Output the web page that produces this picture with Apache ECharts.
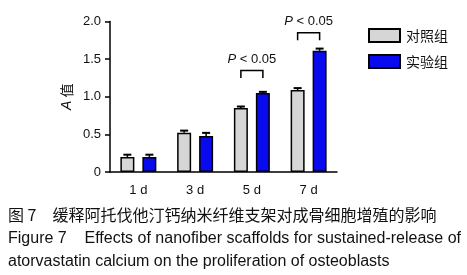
<!DOCTYPE html>
<html>
<head>
    <meta charset="utf-8"/>
    <script src="https://cdn.jsdelivr.net/npm/echarts@6/dist/echarts.min.js"></script>
</head>
<body style="margin:0;background:#fff">
<div id="main" style="width: 467px;height:275px;"></div>
<script type="text/javascript">
    // 数据
    var days = ['1 d', '3 d', '5 d', '7 d'];
    var controlVals = [0.20, 0.52, 0.85, 1.09];
    var controlErr = [0.03, 0.03, 0.02, 0.025];
    var expVals = [0.20, 0.48, 1.05, 1.61];
    var expErr = [0.03, 0.04, 0.015, 0.03];
    var yTicks = [0, 0.5, 1.0, 1.5, 2.0];
    // 显著性标注
    var sigDays = ['5 d', '7 d'];
    var sigLevels = [1.25, 1.75];
    var sigText = 'P < 0.05';

    var myChart = echarts.init(document.getElementById('main'));

    var barW = 14;
    var half = 11; // 柱中心到类目中心的距离

    function errItem(offset) {
        return function (params, api) {
            var x = api.coord([api.value(0), api.value(1)]);
            var t = api.coord([api.value(0), api.value(1) + api.value(2)]);
            var cx = x[0] + offset;
            return {
                type: 'group',
                children: [{
                    type: 'line',
                    shape: {x1: cx, y1: x[1], x2: cx, y2: t[1]},
                    style: {stroke: '#000', lineWidth: 1.5}
                }, {
                    type: 'line',
                    shape: {x1: cx - 4, y1: t[1], x2: cx + 4, y2: t[1]},
                    style: {stroke: '#000', lineWidth: 2}
                }]
            };
        };
    }

    function toData(vals, errs) {
        return vals.map(function (v, i) { return [i, v, errs[i]]; });
    }

    option = {
        animation: false,
        textStyle: {fontFamily: 'Liberation Sans, Arial, sans-serif'},
        legend: {
            data: ['对照组', '实验组'],
            orient: 'vertical',
            left: 368,
            top: 28,
            padding: 0,
            icon: 'rect',
            itemWidth: 31,
            itemHeight: 13,
            itemGap: 11,
            textStyle: {fontSize: 14, color: '#111', fontFamily: 'Noto Sans CJK SC', padding: [0, 0, 0, 1]}
        },
        grid: {left: 110, right: 130, top: 21.5, bottom: 103},
        xAxis: {
            type: 'category',
            data: days,
            axisLine: {lineStyle: {color: '#000', width: 1.5}},
            axisTick: {alignWithLabel: true, length: 5, lineStyle: {color: '#000', width: 1.5}},
            axisLabel: {color: '#111', fontSize: 13, margin: 12}
        },
        yAxis: {
            type: 'value',
            min: yTicks[0],
            max: yTicks[yTicks.length - 1],
            interval: 0.5,
            name: '{i|A} 值',
            nameLocation: 'middle',
            nameRotate: 90,
            nameGap: 36,
            nameTextStyle: {
                fontSize: 14, color: '#111', fontFamily: 'Noto Sans CJK SC',
                rich: {i: {fontStyle: 'italic', fontSize: 14, fontFamily: 'Liberation Sans'}}
            },
            axisLine: {show: true, lineStyle: {color: '#000', width: 1.5}},
            axisTick: {show: true, length: 5, lineStyle: {color: '#000', width: 1.5}},
            axisLabel: {
                color: '#111', fontSize: 13, margin: 9,
                formatter: function (v) { return v === 0 ? '0' : v.toFixed(1); }
            },
            splitLine: {show: false}
        },
        series: [{
            name: '对照组',
            type: 'bar',
            data: controlVals,
            barWidth: barW,
            barGap: '57%',
            itemStyle: {color: '#d6d6d6', borderColor: '#000', borderWidth: 1.5}
        }, {
            name: '实验组',
            type: 'bar',
            data: expVals,
            barWidth: barW,
            itemStyle: {color: '#0a0aee', borderColor: '#000', borderWidth: 1.5}
        }, {
            type: 'custom',
            renderItem: errItem(-half),
            data: toData(controlVals, controlErr),
            z: 5
        }, {
            type: 'custom',
            renderItem: errItem(half),
            data: toData(expVals, expErr),
            z: 5
        }, {
            type: 'custom',
            data: sigDays.map(function (d, i) { return [days.indexOf(d), sigLevels[i]]; }),
            renderItem: function (params, api) {
                var p = api.coord([api.value(0), api.value(1)]);
                var x1 = p[0] - half, x2 = p[0] + half;
                var top = p[1] - 7.5;
                return {
                    type: 'group',
                    children: [{
                        type: 'polyline',
                        shape: {points: [[x1, p[1]], [x1, top], [x2, top], [x2, p[1]]]},
                        style: {stroke: '#000', lineWidth: 1.5, fill: null}
                    }, {
                        type: 'text',
                        x: p[0],
                        y: top - 11,
                        style: {
                            text: '{i|P} < 0.05',
                            align: 'center',
                            verticalAlign: 'middle',
                            fontSize: 13,
                            fill: '#111',
                            fontFamily: 'Liberation Sans',
                            rich: {i: {fontStyle: 'italic', fontSize: 13, fontFamily: 'Liberation Sans'}}
                        }
                    }]
                };
            },
            z: 6
        }],
        graphic: [{
            type: 'text', left: 8, top: 207,
            style: {text: '图 7　缓释阿托伐他汀钙纳米纤维支架对成骨细胞增殖的影响', fontSize: 16, fill: '#111', fontFamily: 'Noto Sans CJK SC'}
        }, {
            type: 'text', left: 8, top: 231,
            style: {text: 'Figure 7    Effects of nanofiber scaffolds for sustained-release of', fontSize: 16, fill: '#111', fontFamily: 'Liberation Sans'}
        }, {
            type: 'text', left: 8, top: 254,
            style: {text: 'atorvastatin calcium on the proliferation of osteoblasts', fontSize: 16, fill: '#111', fontFamily: 'Liberation Sans'}
        }]
    };

    myChart.setOption(option);
</script>
</body>
</html>
